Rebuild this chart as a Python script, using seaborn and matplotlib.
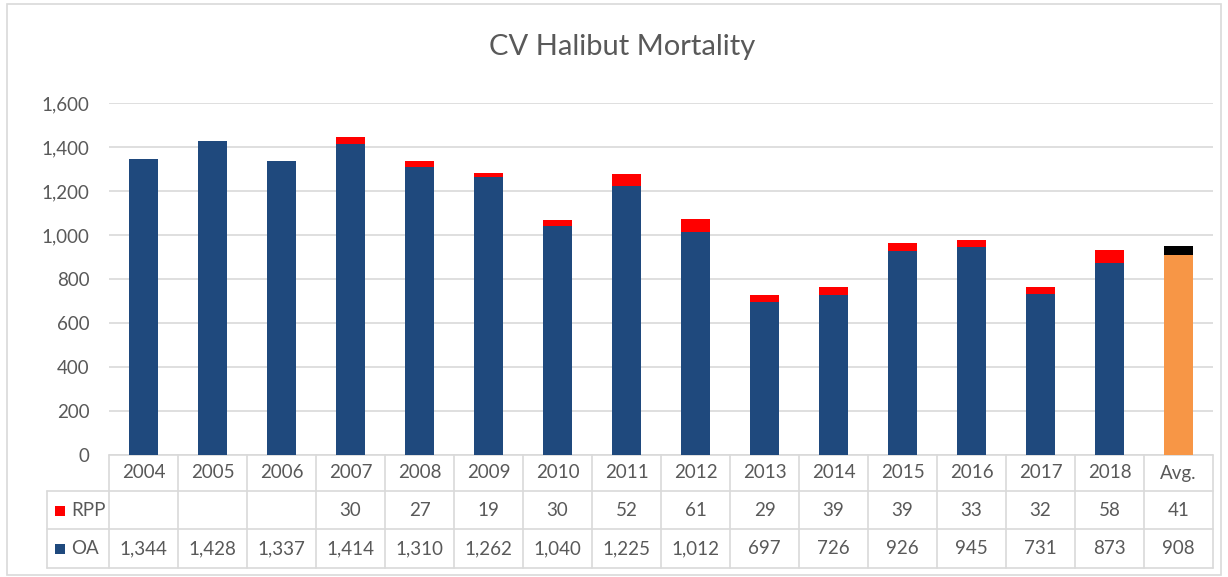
import matplotlib
matplotlib.use("Agg")
import matplotlib.pyplot as plt
import matplotlib.transforms as mtransforms
from matplotlib.lines import Line2D
from matplotlib.patches import Rectangle
import seaborn as sns
import pandas as pd

categories = ["2004", "2005", "2006", "2007", "2008", "2009", "2010", "2011",
              "2012", "2013", "2014", "2015", "2016", "2017", "2018", "Avg."]
oa = [1344, 1428, 1337, 1414, 1310, 1262, 1040, 1225, 1012, 697, 726, 926, 945, 731, 873, 908]
rpp = [None, None, None, 30, 27, 19, 30, 52, 61, 29, 39, 39, 33, 32, 58, 41]
title = "CV Halibut Mortality"
yticks = [0, 200, 400, 600, 800, 1000, 1200, 1400, 1600]

NAVY = "#1F497D"
RED = "#FF0000"
ORANGE = "#F79646"
BLACK = "#000000"
GRAY_TXT = "#595959"
GRID = "#D9D9D9"

sns.set_theme(style="white")
plt.rcParams["font.family"] = ["Lato", "DejaVu Sans"]

W, H = 1228, 577
fig = plt.figure(figsize=(W / 100, H / 100), dpi=100)
# axes in pixel coordinates
ax_l, ax_r, ax_t, ax_b = 109, 1213, 103, 455
ax = fig.add_axes([ax_l / W, 1 - ax_b / H, (ax_r - ax_l) / W, (ax_b - ax_t) / H])

totals = [o + (r or 0) for o, r in zip(oa, rpp)]
df = pd.DataFrame({"cat": categories, "oa": oa, "total": totals})

top_pal = {c: (BLACK if c == "Avg." else RED) for c in categories}
base_pal = {c: (ORANGE if c == "Avg." else NAVY) for c in categories}

sns.barplot(data=df, x="cat", y="total", hue="cat", palette=top_pal, legend=False,
            width=0.41, saturation=1, ax=ax, zorder=2, linewidth=0)
sns.barplot(data=df, x="cat", y="oa", hue="cat", palette=base_pal, legend=False,
            width=0.41, saturation=1, ax=ax, zorder=3, linewidth=0)

ax.set_ylim(0, 1600)
ax.set_xlim(-0.5, len(categories) - 0.5)
ax.set_yticks(yticks)
ax.set_yticklabels([f"{v:,}" for v in yticks], color=GRAY_TXT, fontsize=13.5)
ax.tick_params(axis="y", length=0, pad=14)
ax.set_xticks([])
ax.set_xlabel("")
ax.set_ylabel("")
for s in ax.spines.values():
    s.set_visible(False)
ax.yaxis.grid(True, color=GRID, linewidth=1.2, zorder=0)
ax.set_axisbelow(True)

fig.text(622 / W, 1 - 47 / H, title, ha="center", va="center", fontsize=21, color=GRAY_TXT)

# data table below the axis
trans = mtransforms.blended_transform_factory(ax.transData, ax.transAxes)
axh = ax_b - ax_t
def yax(px):
    return (ax_b - px) / axh

row_hdr, row_rpp, row_oa = 473, 511, 549
lines_y = [455, 491, 529, 568]
n = len(categories)
# horizontal lines
ax.add_line(Line2D([-0.5, n - 0.5], [yax(455)] * 2, transform=trans, color=GRID, lw=1.2, clip_on=False))
left_x = -0.5 - (ax_l - 47) / ((ax_r - ax_l) / n)
for yy in lines_y[1:]:
    ax.add_line(Line2D([left_x, n - 0.5], [yax(yy)] * 2, transform=trans, color=GRID, lw=1.2, clip_on=False))
# vertical lines
for i in range(n + 1):
    ax.add_line(Line2D([i - 0.5, i - 0.5], [yax(455), yax(568)], transform=trans, color=GRID, lw=1.2, clip_on=False))
ax.add_line(Line2D([left_x, left_x], [yax(491), yax(568)], transform=trans, color=GRID, lw=1.2, clip_on=False))

fs = 13.5
for i, c in enumerate(categories):
    ax.text(i, yax(row_hdr), c, transform=trans, ha="center", va="center", fontsize=fs, color=GRAY_TXT, clip_on=False)
    if rpp[i] is not None:
        ax.text(i, yax(row_rpp), f"{rpp[i]:,}", transform=trans, ha="center", va="center", fontsize=fs, color=GRAY_TXT, clip_on=False)
    ax.text(i, yax(row_oa), f"{oa[i]:,}", transform=trans, ha="center", va="center", fontsize=fs, color=GRAY_TXT, clip_on=False)

# legend keys in the table
for label, col, yy in [("RPP", RED, row_rpp), ("OA", NAVY, row_oa)]:
    fig.patches.append(Rectangle((55 / W, 1 - (yy + 5) / H), 10 / W, 10 / H, transform=fig.transFigure,
                                 facecolor=col, edgecolor="none"))
    fig.text(71 / W, 1 - yy / H, label, ha="left", va="center", fontsize=fs, color=GRAY_TXT)

# chart border
fig.patches.append(Rectangle((7 / W, 1 - 575 / H), (1221 - 7) / W, (575 - 4) / H, transform=fig.transFigure,
                             facecolor="none", edgecolor=GRID, lw=1.2))

fig.savefig("out.png", dpi=100, facecolor="white")
